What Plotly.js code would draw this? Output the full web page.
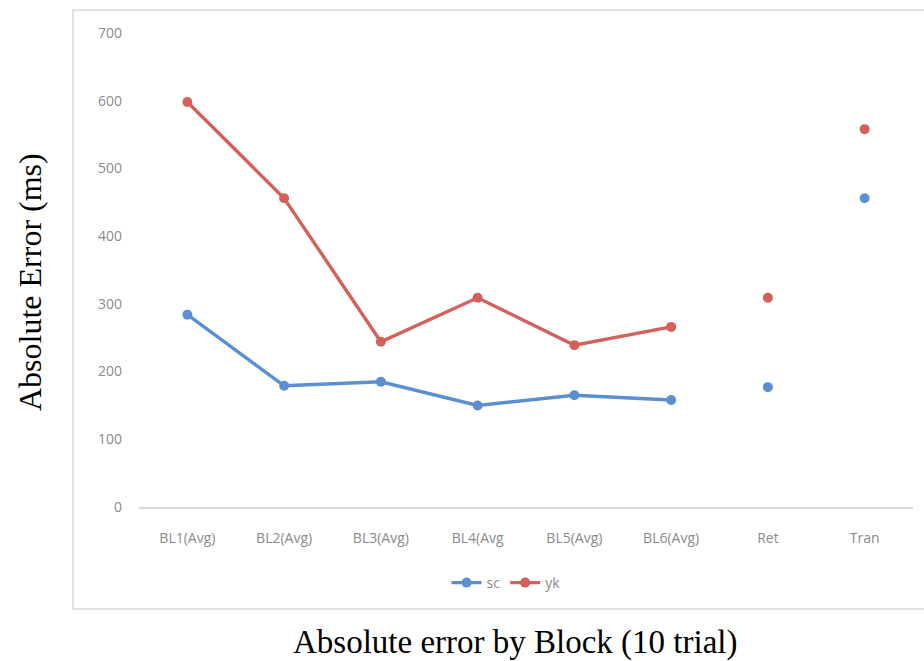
<!DOCTYPE html>
<html>
<head>
<meta charset="utf-8">
<script src="https://cdn.plot.ly/plotly-3.0.1.min.js"></script>
<style>html,body{margin:0;padding:0;background:#fff;}#chart{width:924px;height:661px;}</style>
</head>
<body>
<div id="chart"></div>
<script>
const categories = ["BL1(Avg)", "BL2(Avg)", "BL3(Avg)", "BL4(Avg", "BL5(Avg)", "BL6(Avg)", "Ret", "Tran"];
const scValues = [284, 179, 185, 150, 165, 158, 177, 456];
const ykValues = [598, 456, 244, 309, 239, 266, 309, 558];
const yTicks = [0, 100, 200, 300, 400, 500, 600, 700];
const seriesNames = ["sc", "yk"];
const colors = ["#5b8fd0", "#d3605b"];

const nLine = 6; // blocks connected by a line; the rest are unconnected points
const traces = [];
[scValues, ykValues].forEach((vals, i) => {
  traces.push({
    x: categories.slice(0, nLine), y: vals.slice(0, nLine),
    type: "scatter", mode: "lines+markers", name: seriesNames[i],
    legendgroup: seriesNames[i],
    line: {color: colors[i], width: 3.4},
    marker: {color: colors[i], size: 10}
  });
  traces.push({
    x: categories.slice(nLine), y: vals.slice(nLine),
    type: "scatter", mode: "markers", name: seriesNames[i],
    legendgroup: seriesNames[i], showlegend: false,
    marker: {color: colors[i], size: 10}
  });
});

const L = 139, R = 913, T = 33, B = 507;
const W = R - L, H = B - T;
const px = x => (x - L) / W;
const py = y => (B - y) / H;
const tickFont = {family: "Open Sans, Liberation Sans, sans-serif", size: 14, color: "#8a8a8a"};

const layout = {
  width: 924, height: 661,
  margin: {l: L, r: 924 - R, t: T, b: 661 - B},
  paper_bgcolor: "#fff", plot_bgcolor: "#fff",
  showlegend: true,
  legend: {orientation: "h", x: px(506), xanchor: "center", y: py(583), yanchor: "middle",
           font: {family: "Open Sans, Liberation Sans, sans-serif", size: 14, color: "#8a8a8a"},
           tracegroupgap: 0},
  xaxis: {
    type: "category", categoryorder: "array", categoryarray: categories,
    range: [-0.5, categories.length - 0.5],
    showgrid: false, zeroline: false, showline: true, linecolor: "#d9d9d9", linewidth: 1.5,
    ticks: "", ticklabelstandoff: 18,
    tickfont: tickFont, fixedrange: true
  },
  yaxis: {
    range: [0, 700], tickvals: yTicks, ticktext: yTicks.map(String),
    showgrid: false, zeroline: false, showline: false, ticks: "", ticklabelstandoff: 16,
    tickfont: tickFont, fixedrange: true
  },
  shapes: [{
    type: "rect", xref: "paper", yref: "paper",
    x0: px(73), x1: px(940), y0: py(609), y1: py(10),
    line: {color: "#e3e3e3", width: 2}, fillcolor: "rgba(0,0,0,0)", layer: "below"
  }],
  annotations: [
    {text: "Absolute Error (ms)", xref: "paper", yref: "paper", x: px(30), y: py(282),
     textangle: -90, showarrow: false, xanchor: "center", yanchor: "middle",
     font: {family: "Liberation Serif, DejaVu Serif, serif", size: 32, color: "#000"}},
    {text: "Absolute error by Block (10 trial)", xref: "paper", yref: "paper", x: px(515), y: py(642),
     showarrow: false, xanchor: "center", yanchor: "middle",
     font: {family: "Liberation Serif, DejaVu Serif, serif", size: 33, color: "#000"}}
  ]
};

Plotly.newPlot("chart", traces, layout, {staticPlot: true, displayModeBar: false});
</script>
</body>
</html>
